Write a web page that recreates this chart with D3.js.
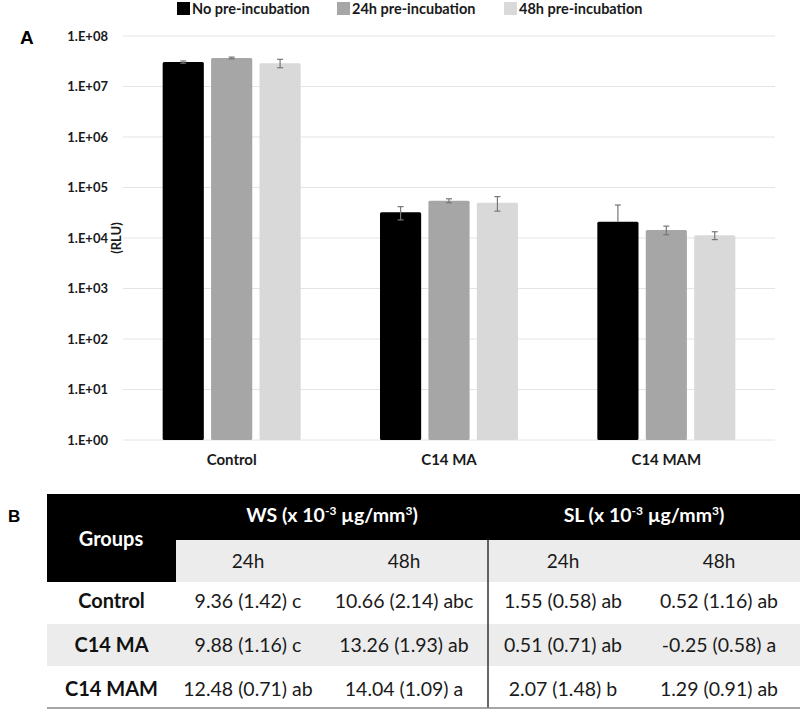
<!DOCTYPE html>
<html><head><meta charset="utf-8">
<script src="https://cdn.jsdelivr.net/npm/d3@7"></script>
<style>body{margin:0;background:#fff}svg{display:block;font-family:Lato,"Open Sans",sans-serif}</style>
</head><body><svg id="c" width="800" height="716"></svg>
<script>
// ---- Data ----
const categories = ["Control", "C14 MA", "C14 MAM"];
const seriesNames = ["No pre-incubation", "24h pre-incubation", "48h pre-incubation"];
const noPre   = [3.05e7, 3.23e4, 2.1e4];
const pre24   = [3.67e7, 5.48e4, 1.44e4];
const pre48   = [2.9e7, 5.0e4, 1.13e4];
const errNoPre = [1.5e6, 9.5e3, 2.4e4];
const err24    = [1.5e6, 5e3, 2.8e3];
const err48    = [5.5e6, 1.6e4, 2e3];
const yTicks = [1, 10, 100, 1e3, 1e4, 1e5, 1e6, 1e7, 1e8];
const yTickLabels = ["1.E+00","1.E+01","1.E+02","1.E+03","1.E+04","1.E+05","1.E+06","1.E+07","1.E+08"];
const colors = ["#000000", "#a6a6a6", "#d9d9d9"];

// table data
const tableGroups = ["Control", "C14 MA", "C14 MAM"];
const ws24 = ["9.36 (1.42) c", "9.88 (1.16) c", "12.48 (0.71) ab"];
const ws48 = ["10.66 (2.14) abc", "13.26 (1.93) ab", "14.04 (1.09) a"];
const sl24 = ["1.55 (0.58) ab", "0.51 (0.71) ab", "2.07 (1.48) b"];
const sl48 = ["0.52 (1.16) ab", "-0.25 (0.58) a", "1.29 (0.91) ab"];
const subHeaders = ["24h", "48h", "24h", "48h"];

const svg = d3.select("#c");

// ---- Chart A ----
const series = [noPre, pre24, pre48];
const errs = [errNoPre, err24, err48];
const x0 = d3.scaleBand().domain(categories).range([123, 775]).padding(0);
const x1 = d3.scaleBand().domain(d3.range(3)).range([-69, 69]).paddingInner(0.15);
const y = d3.scaleLog().domain([1, 1e8]).range([440, 36]);

// gridlines
svg.append("g").selectAll("line").data(yTicks).join("line")
  .attr("x1", 123).attr("x2", 775)
  .attr("y1", d => y(d)).attr("y2", d => y(d))
  .attr("stroke", "#e4e4e4").attr("stroke-width", 1);

// y axis labels
const yAxis = d3.axisLeft(y).tickValues(yTicks).tickFormat((d, i) => yTickLabels[i]).tickSize(0).tickPadding(0);
const ya = svg.append("g").attr("transform", "translate(108,0)").call(yAxis);
ya.select(".domain").remove();
ya.selectAll("text").attr("font-family", "Lato").attr("font-weight", "bold").attr("font-size", 13).attr("fill", "#1a1a1a");

// bars
const flat = [];
categories.forEach((c, ci) => series.forEach((s, si) => flat.push({c, si, v: s[ci], e: errs[si][ci]})));
svg.append("g").selectAll("rect").data(flat).join("rect")
  .attr("x", d => x0(d.c) + x0.bandwidth() / 2 + x1(d.si))
  .attr("width", x1.bandwidth())
  .attr("y", d => y(d.v))
  .attr("height", d => y(1) - y(d.v))
  .attr("rx", 1.5)
  .attr("fill", d => colors[d.si]);

// error bars
const eg = svg.append("g").attr("stroke", "#777").attr("stroke-width", 1.2);
flat.forEach(d => {
  const cx = x0(d.c) + x0.bandwidth() / 2 + x1(d.si) + x1.bandwidth() / 2;
  const yt = y(d.v + d.e);
  const yb = d.v - d.e > 0 ? y(d.v - d.e) : y(d.v);
  eg.append("line").attr("x1", cx).attr("x2", cx).attr("y1", yt).attr("y2", yb);
  eg.append("line").attr("x1", cx - 3).attr("x2", cx + 3).attr("y1", yt).attr("y2", yt);
  if (d.v - d.e > 0) eg.append("line").attr("x1", cx - 3).attr("x2", cx + 3).attr("y1", yb).attr("y2", yb);
});

// x axis labels
const xAxis = d3.axisBottom(x0).tickSize(0).tickPadding(0);
const xa = svg.append("g").attr("transform", "translate(0,454)").call(xAxis);
xa.select(".domain").remove();
xa.selectAll("text").attr("font-family", "Lato").attr("font-weight", "bold").attr("font-size", 15).attr("fill", "#1a1a1a");

// y title
svg.append("text").attr("transform", "translate(121,238) rotate(-90)")
  .attr("text-anchor", "middle").attr("font-weight", "bold").attr("font-size", 13).attr("fill", "#1a1a1a").text("(RLU)");

// panel label A
svg.append("text").attr("x", 20).attr("y", 44).attr("font-family", "Liberation Sans, Arial").attr("font-weight", "bold").attr("font-size", 19).text("A");

// legend
const legX = [177, 337, 504];
const lg = svg.append("g");
seriesNames.forEach((n, i) => {
  lg.append("rect").attr("x", legX[i]).attr("y", 2).attr("width", 13).attr("height", 13).attr("fill", colors[i]);
  lg.append("text").attr("x", legX[i] + 15).attr("y", 14).attr("font-weight", "bold").attr("font-size", 14.5).attr("fill", "#1a1a1a").text(n);
});

// ---- Table B ----
svg.append("text").attr("x", 8).attr("y", 522).attr("font-family", "Liberation Sans, Arial").attr("font-weight", "bold").attr("font-size", 17).text("B");

const tb = svg.append("g");
const colEdges = [47, 176, 320, 488, 638, 800];
const colCenters = d3.range(5).map(i => (colEdges[i] + colEdges[i + 1]) / 2);
const rowTops = [582, 624, 666, 708];

// subheader gray
tb.append("rect").attr("x", 176).attr("y", 540).attr("width", 624).attr("height", 42).attr("fill", "#ececec");
// middle row gray
tb.append("rect").attr("x", 47).attr("y", rowTops[1]).attr("width", 753).attr("height", rowTops[2] - rowTops[1]).attr("fill", "#ececec");
// header black
tb.append("rect").attr("x", 47).attr("y", 494).attr("width", 753).attr("height", 46).attr("fill", "#000");
tb.append("rect").attr("x", 47).attr("y", 494).attr("width", 129).attr("height", 88).attr("fill", "#000");
// divider and bottom line
tb.append("line").attr("x1", 488).attr("x2", 488).attr("y1", 540).attr("y2", 708).attr("stroke", "#333").attr("stroke-width", 1.5);
tb.append("line").attr("x1", 47).attr("x2", 800).attr("y1", 708).attr("y2", 708).attr("stroke", "#888").attr("stroke-width", 1.5);

// header text
tb.append("text").attr("x", 111).attr("y", 546).attr("text-anchor", "middle").attr("fill", "#fff").attr("font-weight", "bold").attr("font-size", 20).text("Groups");
function unitHeader(cx, label) {
  const t = tb.append("text").attr("x", cx).attr("y", 522).attr("text-anchor", "middle").attr("fill", "#fff").attr("font-weight", "bold").attr("font-size", 19.5);
  t.append("tspan").text(label + " (x 10");
  t.append("tspan").attr("font-size", 12).attr("dy", -7).text("-3");
  t.append("tspan").attr("dy", 7).text(" \u00b5g/mm");
  t.append("tspan").attr("font-size", 12).attr("dy", -7).text("3");
  t.append("tspan").attr("dy", 7).text(")");
}
unitHeader((176 + 488) / 2, "WS");
unitHeader((488 + 800) / 2, "SL");

subHeaders.forEach((s, i) => {
  tb.append("text").attr("x", colCenters[i + 1]).attr("y", 568).attr("text-anchor", "middle").attr("fill", "#1a1a1a").attr("font-size", 19).text(s);
});

const cols = [ws24, ws48, sl24, sl48];
tableGroups.forEach((g, r) => {
  const cy = 601 + r * 44;
  tb.append("text").attr("x", colCenters[0]).attr("y", cy).attr("dy", "0.35em").attr("text-anchor", "middle").attr("font-weight", "bold").attr("font-size", 20).attr("fill", "#111").text(g);
  cols.forEach((c, ci) => {
    tb.append("text").attr("x", colCenters[ci + 1]).attr("y", cy).attr("dy", "0.35em").attr("text-anchor", "middle").attr("font-size", 19.5).attr("fill", "#1a1a1a").text(c[r]);
  });
});
</script></body></html>
